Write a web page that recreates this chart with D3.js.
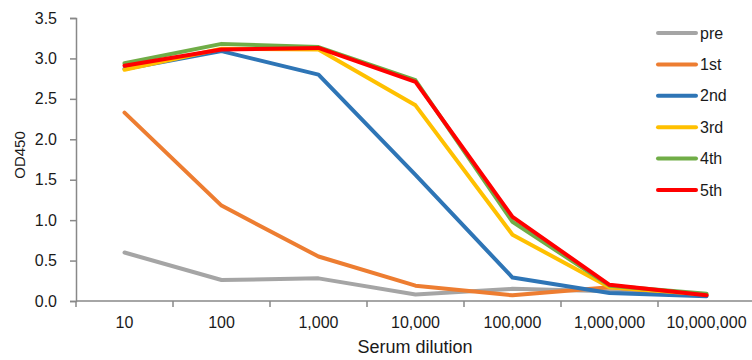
<!DOCTYPE html>
<html>
<head>
<meta charset="utf-8">
<script src="https://cdn.jsdelivr.net/npm/d3@7"></script>
<style>
  body { margin: 0; background: #fff; }
  text { font-family: "Liberation Sans", Arial, sans-serif; fill: #1a1a1a; }
</style>
</head>
<body>
<script>
// categories and series
var dilutions = ["10", "100", "1,000", "10,000", "100,000", "1,000,000", "10,000,000"];
var seriesNames = ["pre", "1st", "2nd", "3rd", "4th", "5th"];
var seriesColors = ["#a5a5a5", "#ed7d31", "#2e75b6", "#ffc000", "#70ad47", "#ff0000"];
var pre = [0.60, 0.26, 0.28, 0.08, 0.15, 0.12, 0.07];
var first = [2.33, 1.18, 0.55, 0.19, 0.07, 0.17, 0.07];
var second = [2.87, 3.09, 2.80, 1.56, 0.29, 0.10, 0.06];
var third = [2.86, 3.12, 3.11, 2.42, 0.82, 0.17, 0.08];
var fourth = [2.94, 3.18, 3.14, 2.73, 0.98, 0.19, 0.09];
var fifth = [2.91, 3.11, 3.13, 2.71, 1.04, 0.20, 0.07];
var yTicks = [0, 0.5, 1.0, 1.5, 2.0, 2.5, 3.0, 3.5];

var allSeries = [pre, first, second, third, fourth, fifth];

// set the dimensions and margins
var margin = {top: 18, right: 0, bottom: 59, left: 76},
    fullW = 752, fullH = 360,
    width = 755 - margin.left,
    height = fullH - margin.top - margin.bottom;

var x = d3.scaleBand().domain(dilutions).range([0, width]);
var y = d3.scaleLinear().domain([0, 3.5]).range([height, 0]);

var svg = d3.select("body").append("svg")
    .attr("width", fullW)
    .attr("height", fullH)
  .append("g")
    .attr("transform", "translate(" + margin.left + "," + margin.top + ")");

var axisColor = "#888";

// Y axis
var yAxis = svg.append("g")
    .call(d3.axisLeft(y).tickValues(yTicks).tickFormat(d3.format(".1f")).tickSize(6).tickPadding(13));
yAxis.select(".domain").attr("stroke", axisColor).attr("stroke-width", 1.5);
yAxis.selectAll(".tick line").attr("stroke", axisColor).attr("stroke-width", 1.5);
yAxis.selectAll(".tick text").style("font-size", "16px").attr("fill", "#1a1a1a");

// X axis: ticks between categories
var xAxis = svg.append("g")
    .attr("transform", "translate(0," + height + ")");
xAxis.append("line")
    .attr("x1", 0).attr("x2", width)
    .attr("stroke", axisColor).attr("stroke-width", 1.5);
xAxis.selectAll(".xt")
    .data(dilutions)
    .enter().append("line")
    .attr("x1", function(d) { return x(d); })
    .attr("x2", function(d) { return x(d); })
    .attr("y1", 0).attr("y2", 6)
    .attr("stroke", axisColor).attr("stroke-width", 1.5);
xAxis.selectAll(".xl")
    .data(dilutions)
    .enter().append("text")
    .attr("x", function(d) { return x(d) + x.bandwidth() / 2; })
    .attr("y", 27)
    .attr("text-anchor", "middle")
    .style("font-size", "16px")
    .text(function(d) { return d; });

// axis titles
svg.append("text")
    .attr("x", 415 - margin.left)
    .attr("y", height + 52)
    .attr("text-anchor", "middle")
    .style("font-size", "18px")
    .text("Serum dilution");

svg.append("text")
    .attr("transform", "translate(" + (-51) + "," + (155 - margin.top) + ") rotate(-90)")
    .attr("text-anchor", "middle")
    .style("font-size", "15px")
    .text("OD450");

// lines
var line = d3.line()
    .x(function(d, i) { return x(dilutions[i]) + x.bandwidth() / 2; })
    .y(function(d) { return y(d); });

svg.selectAll(".series")
    .data(allSeries)
    .enter().append("path")
    .attr("class", "series")
    .attr("d", line)
    .attr("fill", "none")
    .attr("stroke", function(d, i) { return seriesColors[i]; })
    .attr("stroke-width", 4)
    .attr("stroke-linejoin", "round")
    .attr("stroke-linecap", "round");

// legend
var legend = svg.selectAll(".legend")
    .data(seriesNames)
    .enter().append("g")
    .attr("transform", function(d, i) { return "translate(" + (658 - margin.left) + "," + (33 - margin.top + i * 31.4) + ")"; });

legend.append("line")
    .attr("x1", 0).attr("x2", 38)
    .attr("stroke", function(d, i) { return seriesColors[i]; })
    .attr("stroke-width", 4)
    .attr("stroke-linecap", "round");

legend.append("text")
    .attr("x", 42)
    .attr("dy", "0.35em")
    .style("font-size", "16px")
    .text(function(d) { return d; });
</script>
</body>
</html>
